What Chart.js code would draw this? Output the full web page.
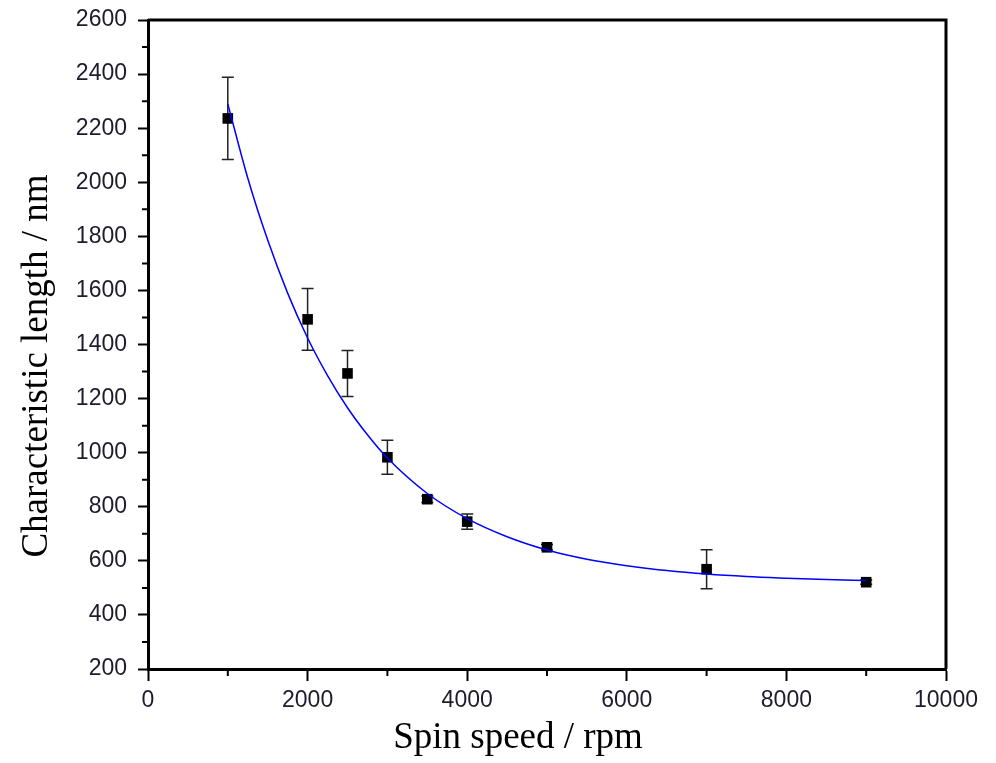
<!DOCTYPE html>
<html>
<head>
<meta charset="utf-8">
<script src="https://cdn.jsdelivr.net/npm/chart.js@4"></script>
<style>
html,body{margin:0;padding:0;background:#fff;}
#wrap{width:996px;height:763px;}
</style>
</head>
<body>
<div id="wrap"><canvas id="c" width="996" height="763"></canvas></div>
<script>
// Measured data (spin speed in rpm, characteristic length in nm)
const spinSpeed = [1000, 2000, 2500, 3000, 3500, 4000, 5000, 7000, 9000];
const charLength = [2236, 1493, 1293, 983, 828, 745, 650, 569, 521];
const errLength = [152, 114, 85, 63, 12, 28, 10, 72, 8];

// Fitted curve
const fitX = [1000, 1250, 1500, 1750, 2000, 2250, 2500, 2750, 3000, 3500, 4000, 4500, 5000, 5500, 6000, 6500, 7000, 7500, 8000, 8500, 9000];
const fitY = [2290, 2016, 1786, 1590, 1424, 1285, 1166, 1066, 980, 849, 756, 689, 640, 606, 582, 564, 551, 542, 536, 531, 527];

const xTicks = [0, 2000, 4000, 6000, 8000, 10000];
const yTicks = [200, 400, 600, 800, 1000, 1200, 1400, 1600, 1800, 2000, 2200, 2400, 2600];

const xTitle = 'Spin speed / rpm';
const yTitle = 'Characteristic length / nm';

const extras = {
  id: 'extras',
  beforeDatasetsDraw(chart) {
    const ctx = chart.ctx, xs = chart.scales.x, ys = chart.scales.y;
    ctx.save();
    ctx.strokeStyle = '#222';
    ctx.lineWidth = 1.5;
    spinSpeed.forEach((sx, i) => {
      const px = xs.getPixelForValue(sx);
      const top = ys.getPixelForValue(charLength[i] + errLength[i]);
      const bot = ys.getPixelForValue(charLength[i] - errLength[i]);
      ctx.beginPath();
      ctx.moveTo(px, top); ctx.lineTo(px, bot);
      ctx.moveTo(px - 6, top); ctx.lineTo(px + 6, top);
      ctx.moveTo(px - 6, bot); ctx.lineTo(px + 6, bot);
      ctx.stroke();
    });
    ctx.restore();
  },
  afterDraw(chart) {
    const ctx = chart.ctx, xs = chart.scales.x, ys = chart.scales.y, a = chart.chartArea;
    ctx.save();
    ctx.strokeStyle = '#000';
    // minor ticks
    ctx.lineWidth = 2;
    ctx.beginPath();
    for (let i = 0; i < xTicks.length - 1; i++) {
      const v = (xTicks[i] + xTicks[i + 1]) / 2;
      const px = xs.getPixelForValue(v);
      ctx.moveTo(px, a.bottom); ctx.lineTo(px, a.bottom + 7);
    }
    for (let i = 0; i < yTicks.length - 1; i++) {
      const v = (yTicks[i] + yTicks[i + 1]) / 2;
      const py = ys.getPixelForValue(v);
      ctx.moveTo(a.left, py); ctx.lineTo(a.left - 6, py);
    }
    ctx.stroke();
    // box
    ctx.lineWidth = 3;
    ctx.beginPath();
    ctx.moveTo(a.left, a.top); ctx.lineTo(a.right, a.top); ctx.lineTo(a.right, a.bottom);
    ctx.stroke();
    // titles
    ctx.fillStyle = '#000';
    ctx.font = '37px "Liberation Serif", "Times New Roman", serif';
    ctx.textAlign = 'center';
    ctx.textBaseline = 'alphabetic';
    ctx.fillText(xTitle, 518, 748);
    ctx.translate(47, 366);
    ctx.rotate(-Math.PI / 2);
    ctx.fillText(yTitle, 0, 0);
    ctx.restore();
  }
};

const tickFont = {family: '"Liberation Sans", Arial, sans-serif', size: 23};
const yTickFont = {family: '"Liberation Sans", Arial, sans-serif', size: 23, lineHeight: 0.6};

new Chart(document.getElementById('c'), {
  type: 'scatter',
  data: {
    datasets: [
      {
        label: 'fit',
        data: fitX.map((x, i) => ({x, y: fitY[i]})),
        showLine: true,
        borderColor: '#0000ff',
        borderWidth: 1.5,
        pointRadius: 0,
        cubicInterpolationMode: 'monotone',
        fill: false
      },
      {
        label: 'data',
        data: spinSpeed.map((x, i) => ({x, y: charLength[i]})),
        pointStyle: 'rect',
        pointRadius: 7.5,
        backgroundColor: '#000',
        borderColor: '#000',
        borderWidth: 0
      }
    ]
  },
  options: {
    responsive: false,
    animation: false,
    layout: {padding: {top: 20, right: 50, left: 0, bottom: 0}},
    plugins: {legend: {display: false}, tooltip: {enabled: false}},
    scales: {
      x: {
        type: 'linear', min: 0, max: 10000,
        afterFit(s) { s.height = 94; },
        afterBuildTicks(s) { s.ticks = xTicks.map(v => ({value: v})); },
        border: {display: true, color: '#000', width: 3},
        grid: {drawOnChartArea: false, drawTicks: true, tickLength: 12, tickColor: '#000', tickWidth: 2},
        ticks: {color: '#1c1c2c', font: tickFont, padding: 6, maxRotation: 0, callback: v => String(v)}
      },
      y: {
        type: 'linear', min: 200, max: 2600,
        afterFit(s) { s.width = 148; },
        afterBuildTicks(s) { s.ticks = yTicks.map(v => ({value: v})); },
        border: {display: true, color: '#000', width: 3},
        grid: {drawOnChartArea: false, drawTicks: true, tickLength: 10, tickColor: '#000', tickWidth: 2},
        ticks: {color: '#1c1c2c', font: yTickFont, padding: 11, callback: v => String(v)}
      }
    }
  },
  plugins: [extras]
});
</script>
</body>
</html>
